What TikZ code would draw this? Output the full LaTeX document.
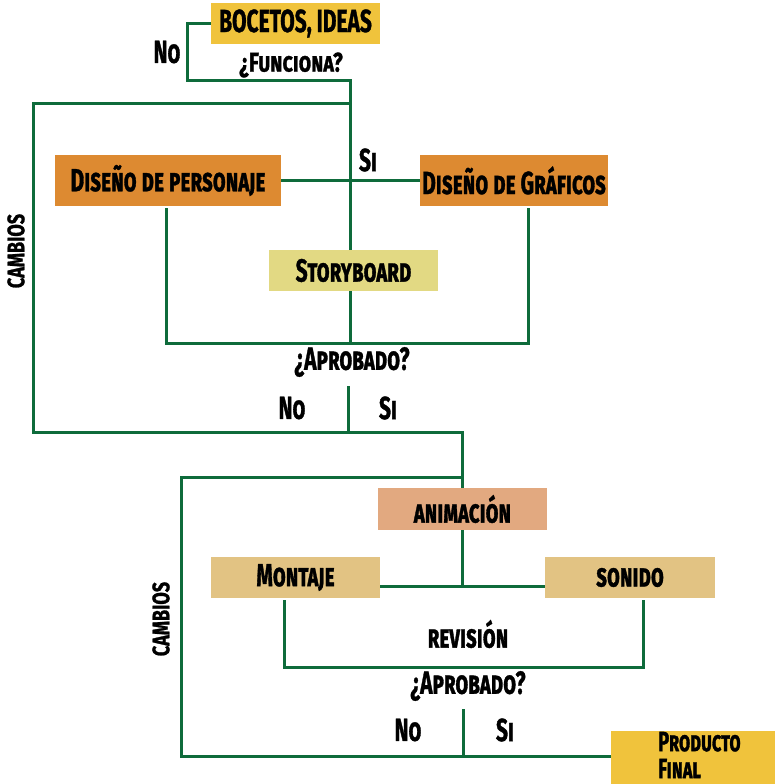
\documentclass[tikz,border=0pt]{standalone}
\usepackage{fontspec}
\newfontfamily\dfont[FakeStretch=0.655,FakeBold=1]{Fira Sans}
\newfontfamily\wfont[FakeStretch=0.75,FakeBold=1]{Fira Sans}
\definecolor{lnc}{HTML}{0E6B3B}
\definecolor{cyel}{HTML}{F0C33C}
\definecolor{corg}{HTML}{DD8A31}
\definecolor{csb}{HTML}{E2D983}
\definecolor{cani}{HTML}{E2A980}
\definecolor{cmon}{HTML}{E2C383}
\tikzset{
  box/.style={rectangle, inner sep=0pt, font=\dfont\bfseries\scshape\fontsize{32}{34}\selectfont},
  lbl/.style={inner sep=0pt, font=\dfont\bfseries\scshape\fontsize{32}{34}\selectfont},
  small/.style={inner sep=0pt, font=\wfont\bfseries\scshape\fontsize{27}{29}\selectfont},
  side/.style={inner sep=0pt, rotate=90, font=\wfont\bfseries\fontsize{24}{26}\selectfont},
  ln/.style={draw=lnc, line width=3pt},
}
\begin{document}
\begin{tikzpicture}[x=1pt,y=-1pt]
\useasboundingbox (0,0) rectangle (775,784);
% boxes
\node[box, fill=cyel, minimum width=169pt, minimum height=41pt] (boc) at (295.5,23.5) {BOCETOS, IDEAS};
\node[box, fill=corg, minimum width=226pt, minimum height=51pt] (dp) at (168,180.5) {Diseño de personaje};
\node[box, fill=corg, minimum width=188pt, minimum height=51pt] (dg) at (514,180.5) {Diseño de Gráficos};
\node[box, fill=csb, minimum width=169pt, minimum height=41pt] (sb) at (353.5,270.5) {Storyboard};
\node[box, fill=cani, minimum width=169pt, minimum height=42pt] (an) at (462.5,509) {animación};
\node[box, fill=cmon, minimum width=169pt, minimum height=41pt] (mo) at (295.5,577.5) {Montaje};
\node[box, fill=cmon, minimum width=170pt, minimum height=41pt] (so) at (630,577.5) {sonido};
\node[rectangle, fill=cyel, minimum width=164pt, minimum height=53pt, inner sep=0pt] (pf) at (693,757.5) {};
\node[box, anchor=west, align=left, font=\dfont\bfseries\scshape\fontsize{28}{27}\selectfont] (pft) at (658,755) {Producto\\Final};
% labels
\node[lbl] (no1) at (167,52) {No};
\node[small] (fun) at (291,65) {¿Funciona?};
\node[lbl] (si1) at (368,160) {Si};
\node[lbl] (ap1) at (352,362) {¿Aprobado?};
\node[lbl] (no2) at (292,408) {No};
\node[lbl] (si2) at (388,408) {Si};
\node[side] (ca1) at (16,251) {CAMBIOS};
\node[side] (ca2) at (161,619) {CAMBIOS};
\node[lbl] (rev) at (468,634) {revisión};
\node[lbl] (ap2) at (468,686) {¿Aprobado?};
\node[lbl] (no3) at (408,730) {No};
\node[lbl] (si3) at (505,730) {Si};
% coordinates
\coordinate (f1) at (187,80);
\coordinate (f2) at (350,80);
\coordinate (u1) at (350,103);
\coordinate (u2) at (33,103);
\coordinate (u3) at (33,432);
\coordinate (u4) at (462,432);
\coordinate (d1) at (166,208);
\coordinate (d2) at (166,343);
\coordinate (d3) at (528,343);
\coordinate (d4) at (528,208);
\coordinate (d5) at (350,343);
\coordinate (a1) at (348,386);
\coordinate (a2) at (348,432);
\coordinate (v1) at (462,477);
\coordinate (v2) at (181,477);
\coordinate (v3) at (181,756);
\coordinate (m1) at (462,586);
\coordinate (r1) at (284,600);
\coordinate (r2) at (284,667);
\coordinate (r3) at (643,667);
\coordinate (r4) at (643,600);
\coordinate (b1) at (463,709);
\coordinate (b2) at (463,756);
% connectors
\draw[ln] (boc.west) -| (f1) -- (f2) -- (f2 |- sb.north);
\draw[ln] (u1) -- (u2) -- (u3) -- (u4) -- (u4 |- an.north);
\draw[ln] (dp.east) -- (dg.west);
\draw[ln] (d1) -- (d2) -- (d3) -- (d4);
\draw[ln] (d5 |- sb.south) -- (d5);
\draw[ln] (a1) -- (a2);
\draw[ln] (v1) -- (v2) -- (v3) -- (pf.west |- v3);
\draw[ln] (m1 |- an.south) -- (m1);
\draw[ln] (mo.east |- m1) -- (so.west |- m1);
\draw[ln] (r1) -- (r2) -- (r3) -- (r4);
\draw[ln] (b1) -- (b2);
\end{tikzpicture}
\end{document}
